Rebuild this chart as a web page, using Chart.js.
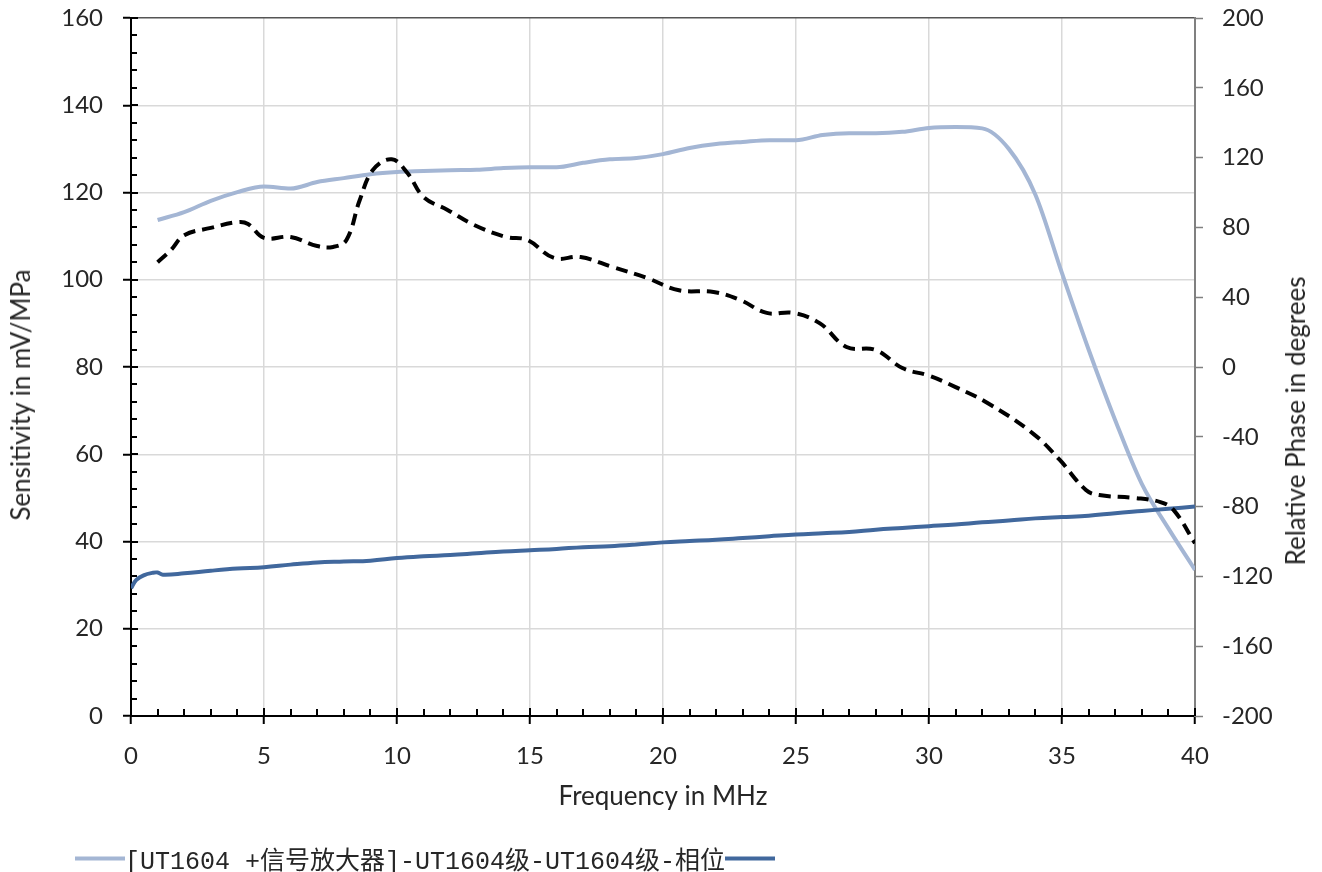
<!DOCTYPE html>
<html>
<head>
<meta charset="utf-8">
<title>Sensitivity / Phase</title>
<script src="https://cdn.jsdelivr.net/npm/chart.js@4/dist/chart.umd.min.js"></script>
<style>
  html, body { margin: 0; padding: 0; background: #fff; }
  #wrap { position: relative; width: 1322px; height: 872px; }
  #chart { position: absolute; left: 0; top: 0; }
  .vtitle {
    position: absolute;
    font-family: Lato, "Open Sans", sans-serif;
    font-size: 26px;
    color: #262626;
    white-space: nowrap;
    transform: translate(-50%, -50%) rotate(-90deg);
  }
  #legend {
    position: absolute;
    left: 75px;
    top: 858px;
    transform: translateY(-50%);
    display: flex;
    align-items: center;
    font-family: "Liberation Mono", "Noto Sans CJK SC", monospace;
    font-size: 25px;
    color: #262626;
    white-space: nowrap;
  }
  #legend .swatch { display: inline-block; width: 50px; height: 4px; }
</style>
</head>
<body>
<div id="wrap">
  <canvas id="chart" width="1322" height="872"></canvas>
  <div class="vtitle" style="left:20px; top:395px;">Sensitivity in mV/MPa</div>
  <div class="vtitle" style="left:1295px; top:421px;">Relative Phase in degrees</div>
  <div id="legend">
    <span class="swatch" style="background:#a4b6d4"></span>
    <span>[UT1604 +信号放大器]-UT1604级-UT1604级-相位</span>
    <span class="swatch" style="background:#41689d"></span>
  </div>
</div>
<script>
// 灵敏度 (淡蓝)
const freqSens = [1, 2, 3, 4, 5, 6, 7, 8, 9, 10, 11, 12, 13, 14, 15, 16, 17, 18, 19, 20,
  21, 22, 23, 24, 25, 26, 27, 28, 29, 30, 31, 32, 33, 34, 35, 36, 37, 38, 39, 40];
const sensValues = [113.7, 115.5, 118.1, 120.1, 121.4, 120.9, 122.4, 123.3, 124.2, 124.7,
  124.9, 125.1, 125.2, 125.6, 125.8, 125.8, 126.8, 127.6, 127.9, 128.8,
  130.2, 131.1, 131.6, 132.0, 132.0, 133.2, 133.6, 133.6, 133.9, 134.8,
  135.0, 134.7, 130.0, 119.5, 101.5, 84.0, 67.8, 53.2, 43.0, 33.5];

// 相位 (黑虚线, 右轴)
const freqPhase = [1, 1.5, 2, 3, 4, 4.4, 5, 6, 7, 7.6, 8.1, 8.6, 9.1, 9.8, 10.4, 11, 11.9,
  12.9, 14.1, 14.9, 15.9, 16.9, 18.1, 19.4, 20.6, 21.9, 22.9, 23.9, 24.9, 25.9, 26.9,
  28, 29, 30, 31, 32.2, 33.9, 34.9, 35.9, 36.4, 37.7, 38.7, 39.2, 40];
const phaseValues = [60, 67, 75.5, 79.7, 83, 82, 74, 74.5, 69.3, 68.8, 72.8, 95.7, 113, 119,
  111, 97.4, 90, 81.4, 74.5, 72.8, 62.5, 63, 57.3, 51, 44, 43, 38.4, 31, 31, 25, 11.5,
  9.7, -0.6, -5, -11.5, -20.6, -38, -53, -70.5, -73.4, -75, -77.4, -82, -101];

// 深蓝
const freqDark = [0, 0.2, 0.5, 0.8, 1, 1.2, 2, 3, 4, 5, 6, 7, 8, 9, 10, 11, 12, 13, 14, 15,
  16, 17, 18, 19, 20, 21, 22, 23, 24, 25, 26, 27, 28, 29, 30, 31, 32, 33, 34, 35,
  36, 37, 38, 39, 40];
const darkValues = [29.3, 31.2, 32.3, 32.8, 32.9, 32.4, 32.7, 33.3, 33.8, 34.1, 34.7, 35.2,
  35.4, 35.6, 36.2, 36.6, 36.9, 37.3, 37.7, 38.0, 38.3, 38.7, 38.9, 39.3, 39.8, 40.1,
  40.4, 40.8, 41.2, 41.6, 41.9, 42.2, 42.7, 43.1, 43.5, 43.9, 44.4, 44.8, 45.3, 45.6,
  45.9, 46.5, 47.0, 47.5, 48.0];

// 轴刻度
const xTicks = { min: 0, max: 40, step: 5, minor: 1 };
const leftTicks = { min: 0, max: 160, step: 20, minor: 4 };
const rightTicks = { min: -200, max: 200, step: 40 };

function toPoints(xs, ys) {
  return xs.map((x, i) => ({ x: x, y: ys[i] }));
}

const tickFont = { family: "Lato", size: 24 };
const textColor = "#262626";

// 小刻度 (轴内侧)
const minorTicks = {
  id: "minorTicks",
  afterDraw(chart) {
    const ctx = chart.ctx;
    const x = chart.scales.x;
    const y = chart.scales.y;
    const area = chart.chartArea;
    ctx.save();
    ctx.strokeStyle = "#000";
    ctx.lineWidth = 2;
    ctx.beginPath();
    for (let v = leftTicks.min; v <= leftTicks.max; v += leftTicks.minor) {
      const py = Math.round(y.getPixelForValue(v));
      const len = v % leftTicks.step === 0 ? 7 : 6;
      ctx.moveTo(area.left, py);
      ctx.lineTo(area.left + len, py);
    }
    for (let v = xTicks.min; v <= xTicks.max; v += xTicks.minor) {
      const px = Math.round(x.getPixelForValue(v));
      const len = v % xTicks.step === 0 ? 8 : 7;
      ctx.moveTo(px, area.bottom);
      ctx.lineTo(px, area.bottom - len);
    }
    ctx.stroke();
    ctx.restore();
  },
};

// 纵轴宽度固定, 不留标签余白
function fitVertical(width) {
  return function (scale) {
    scale.width = width;
    scale.paddingTop = 0;
    scale.paddingBottom = 0;
  };
}

new Chart(document.getElementById("chart"), {
  type: "line",
  data: {
    datasets: [
      {
        label: "phase",
        data: toPoints(freqPhase, phaseValues),
        yAxisID: "y2",
        borderColor: "#000",
        borderWidth: 4,
        borderDash: [12, 7],
        pointRadius: 0,
        tension: 0.4,
        order: 0,
      },
      {
        label: "dark",
        data: toPoints(freqDark, darkValues),
        yAxisID: "y",
        borderColor: "#41689d",
        borderWidth: 4,
        pointRadius: 0,
        tension: 0.4,
        order: 1,
      },
      {
        label: "sensitivity",
        data: toPoints(freqSens, sensValues),
        yAxisID: "y",
        borderColor: "#a4b6d4",
        borderWidth: 4,
        pointRadius: 0,
        cubicInterpolationMode: "monotone",
        order: 2,
      },
    ],
  },
  options: {
    responsive: false,
    animation: false,
    devicePixelRatio: 1,
    layout: { padding: { top: 18, left: 0, right: 0, bottom: 0 } },
    plugins: {
      legend: { display: false },
      tooltip: { enabled: false },
    },
    scales: {
      x: {
        type: "linear",
        min: xTicks.min,
        max: xTicks.max,
        ticks: { stepSize: xTicks.step, font: tickFont, color: textColor, padding: 18, maxRotation: 0 },
        grid: { color: "#d9d9d9", lineWidth: 1.5, tickColor: "#000", tickLength: 8, tickWidth: 2 },
        border: { color: "#000", width: 2 },
        title: {
          display: true,
          text: "Frequency in MHz",
          font: { family: "Lato", size: 26 },
          color: textColor,
          padding: { top: 0, bottom: 60 },
        },
        afterFit(scale) { scale.height = 156; },
      },
      y: {
        position: "left",
        min: leftTicks.min,
        max: leftTicks.max,
        ticks: { stepSize: leftTicks.step, font: tickFont, color: textColor, padding: 20 },
        grid: {
          color: (c) => (c.tick && c.tick.value === leftTicks.max ? "#555" : "#d9d9d9"),
          lineWidth: 1.5,
          tickColor: "#000",
          tickLength: 8,
          tickWidth: 2,
        },
        border: { color: "#000", width: 2 },
        afterFit: fitVertical(131),
      },
      y2: {
        position: "right",
        min: rightTicks.min,
        max: rightTicks.max,
        ticks: { stepSize: rightTicks.step, font: tickFont, color: textColor, padding: 19 },
        grid: { drawOnChartArea: false, tickColor: "#808080", tickLength: 8, tickWidth: 1.5 },
        border: { color: "#808080", width: 2 },
        afterFit: fitVertical(127),
      },
    },
  },
  plugins: [minorTicks],
});
</script>
</body>
</html>
